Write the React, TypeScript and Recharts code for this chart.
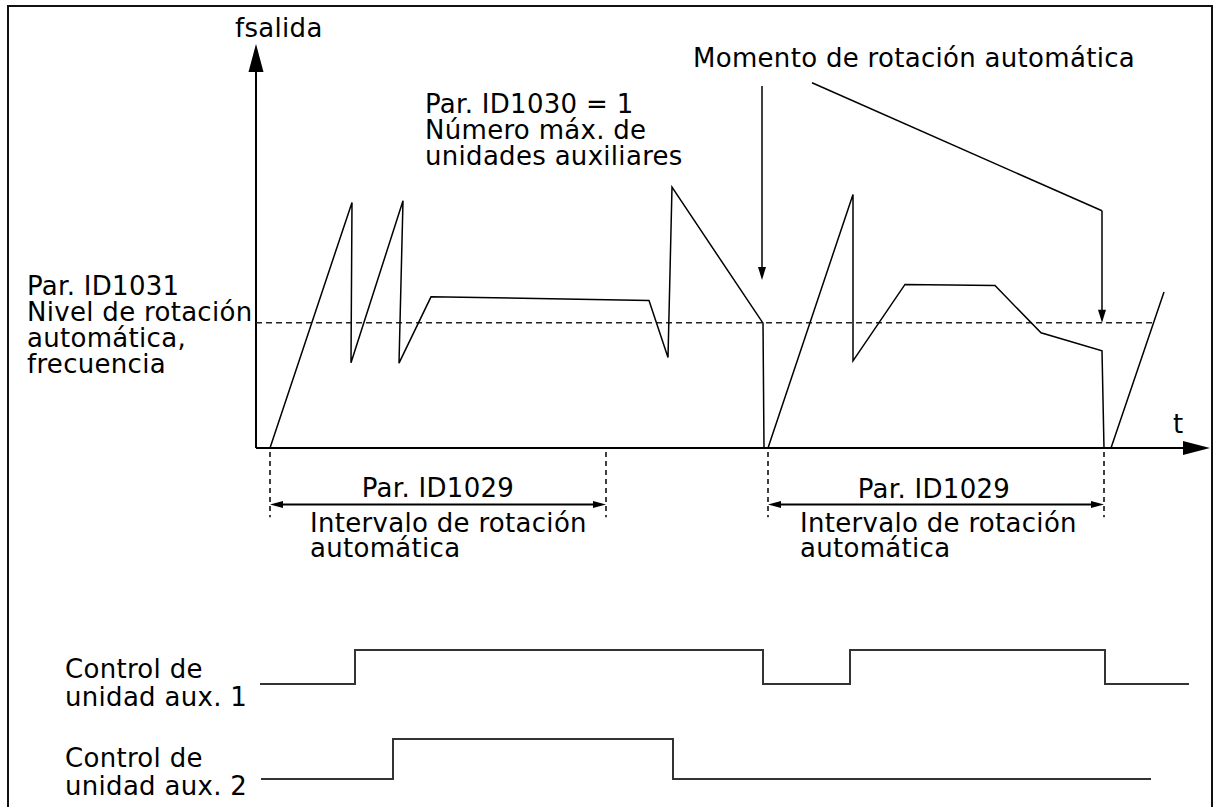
import React from 'react';
import { ComposedChart, LineChart, Line, XAxis, YAxis, ReferenceLine } from 'recharts';

// fsalida vs t (t in time units, f in % of the drawn axis)
const mainTime = [1.4, 9.6, 9.5, 14.7, 14.3, 17.5, 39.3, 41.2, 41.6, 50.7, 50.8, 51.2, 59.7, 59.7, 64.9, 73.9, 78.5, 84.6, 84.8, 85.5, 90.8];
const mainFreq = [0, 61.4, 21.3, 61.8, 21.2, 37.8, 36.9, 22.6, 65.2, 31.2, 0, 0, 63.4, 21.8, 40.9, 40.6, 28.8, 24.3, 0, 0, 39];

// auto change level (Par. ID1031)
const levelFreq = 31.3;
const levelEnd = 89.9;

// auto change interval marks (Par. ID1029)
const intervalStarts = [1.4, 51.2];
const intervalEnds = [35, 84.8];

// auxiliary drive control signals
const aux1Time = [0.4, 9.9, 50.7, 59.4, 84.9, 93.3];
const aux1State = [0, 1, 0, 1, 0, 0];
const aux2Time = [0.5, 13.7, 41.7, 89.5];
const aux2State = [0, 1, 0, 0];

const mainData = mainTime.map((t, i) => ({ t, f: mainFreq[i] }));
const aux1Data = aux1Time.map((t, i) => ({ t, s: aux1State[i] }));
const aux2Data = aux2Time.map((t, i) => ({ t, s: aux2State[i] }));

const X_DOMAIN: [number, number] = [0, 95.4];
const FONT = '"DejaVu Sans", Verdana, sans-serif';

type ArrowOpts = { head: number; half: number; both?: boolean; width?: number; end?: boolean };

const arrow = ({ head, half, both = false, width = 1.5, end = true }: ArrowOpts) => (props: any) => {
  const { x1, y1, x2, y2 } = props;
  const a = Math.atan2(y2 - y1, x2 - x1);
  const tri = (x: number, y: number, ang: number) => {
    const bx = x - head * Math.cos(ang);
    const by = y - head * Math.sin(ang);
    const nx = -Math.sin(ang) * half;
    const ny = Math.cos(ang) * half;
    return `${x},${y} ${bx + nx},${by + ny} ${bx - nx},${by - ny}`;
  };
  const sx = both ? x1 + (head - 2) * Math.cos(a) : x1;
  const sy = both ? y1 + (head - 2) * Math.sin(a) : y1;
  const ex = end ? x2 - (head - 2) * Math.cos(a) : x2;
  const ey = end ? y2 - (head - 2) * Math.sin(a) : y2;
  return (
    <g>
      <line x1={sx} y1={sy} x2={ex} y2={ey} stroke="#000" strokeWidth={width} />
      {end && <polygon points={tri(x2, y2, a)} fill="#000" />}
      {both && <polygon points={tri(x1, y1, a + Math.PI)} fill="#000" />}
    </g>
  );
};

const Labels = () => (
  <svg
    width={1215}
    height={807}
    style={{ position: 'absolute', left: 0, top: 0, pointerEvents: 'none' }}
    fontFamily={FONT}
    fontSize={26}
    letterSpacing={0.3}
    fill="#000"
  >
    <text x={235} y={37}>fsalida</text>
    <text x={693} y={67}>Momento de rotación automática</text>
    <text x={425} y={113}>Par. ID1030 = 1</text>
    <text x={425} y={139}>Número máx. de</text>
    <text x={425} y={165}>unidades auxiliares</text>
    <text x={27} y={295}>Par. ID1031</text>
    <text x={27} y={321}>Nivel de rotación</text>
    <text x={27} y={347}>automática,</text>
    <text x={27} y={373}>frecuencia</text>
    <text x={1173} y={433}>t</text>
    <text x={438} y={497} textAnchor="middle">Par. ID1029</text>
    <text x={310} y={532}>Intervalo de rotación</text>
    <text x={310} y={557}>automática</text>
    <text x={934} y={498} textAnchor="middle">Par. ID1029</text>
    <text x={800} y={532}>Intervalo de rotación</text>
    <text x={800} y={557}>automática</text>
    <text x={65} y={678}>Control de</text>
    <text x={65} y={706}>unidad aux. 1</text>
    <text x={65} y={767}>Control de</text>
    <text x={65} y={795}>unidad aux. 2</text>
  </svg>
);

export default function App() {
  return (
    <div style={{ position: 'absolute', left: 0, top: 0, width: 1215, height: 807, overflow: 'hidden', background: '#fff' }}>
      <div
        style={{
          position: 'absolute',
          left: 7,
          top: 5,
          width: 1206,
          height: 820,
          border: '2px solid #111',
          boxSizing: 'border-box',
        }}
      />
      <div style={{ position: 'absolute', left: 0, top: 0 }}>
        <ComposedChart width={1215} height={600} data={mainData} margin={{ top: 44, right: 5, left: 256, bottom: 32 }}>
          <XAxis type="number" dataKey="t" domain={X_DOMAIN} hide allowDataOverflow />
          <YAxis type="number" domain={[-30, 101]} hide allowDataOverflow />
          {/* axes with arrow heads */}
          <ReferenceLine ifOverflow="visible" segment={[{ x: 0, y: 0 }, { x: 0, y: 101 }]} shape={arrow({ head: 28, half: 7.5, width: 2 })} />
          <ReferenceLine ifOverflow="visible" segment={[{ x: 0, y: 0 }, { x: 95.4, y: 0 }]} shape={arrow({ head: 27, half: 7, width: 2 })} />
          <ReferenceLine
            ifOverflow="visible"
            segment={[{ x: 0, y: levelFreq }, { x: levelEnd, y: levelFreq }]}
            stroke="#222"
            strokeWidth={1.5}
            strokeDasharray="6 4"
          />
          {/* auto change moment pointers */}
          <ReferenceLine ifOverflow="visible" segment={[{ x: 50.6, y: 90.5 }, { x: 50.6, y: 42 }]} shape={arrow({ head: 13, half: 4 })} />
          <ReferenceLine ifOverflow="visible" segment={[{ x: 55.6, y: 91.3 }, { x: 84.6, y: 59.3 }]} stroke="#000" strokeWidth={1.5} />
          <ReferenceLine ifOverflow="visible" segment={[{ x: 84.6, y: 59.3 }, { x: 84.6, y: levelFreq }]} shape={arrow({ head: 13, half: 4 })} />
          {/* interval dimension lines */}
          {intervalStarts.map((s, i) => (
            <React.Fragment key={i}>
              <ReferenceLine ifOverflow="visible" segment={[{ x: s, y: -1 }, { x: s, y: -17.3 }]} stroke="#000" strokeWidth={1.5} strokeDasharray="5 4" />
              <ReferenceLine ifOverflow="visible" segment={[{ x: intervalEnds[i], y: -1 }, { x: intervalEnds[i], y: -17.3 }]} stroke="#000" strokeWidth={1.5} strokeDasharray="5 4" />
              <ReferenceLine
                ifOverflow="visible"
                segment={[{ x: s, y: -14.1 }, { x: intervalEnds[i], y: -14.1 }]}
                shape={arrow({ head: 13, half: 3.5, both: true, width: 2 })}
              />
            </React.Fragment>
          ))}
          <Line type="linear" dataKey="f" stroke="#000" strokeWidth={1.5} dot={false} isAnimationActive={false} />
        </ComposedChart>
      </div>
      <div style={{ position: 'absolute', left: 0, top: 640 }}>
        <LineChart width={1215} height={54} data={aux1Data} margin={{ top: 10, right: 5, left: 256, bottom: 10 }}>
          <XAxis type="number" dataKey="t" domain={X_DOMAIN} hide />
          <YAxis type="number" domain={[0, 1]} hide />
          <Line type="stepAfter" dataKey="s" stroke="#333" strokeWidth={2} dot={false} isAnimationActive={false} />
        </LineChart>
      </div>
      <div style={{ position: 'absolute', left: 0, top: 729 }}>
        <LineChart width={1215} height={60} data={aux2Data} margin={{ top: 10, right: 5, left: 256, bottom: 10 }}>
          <XAxis type="number" dataKey="t" domain={X_DOMAIN} hide />
          <YAxis type="number" domain={[0, 1]} hide />
          <Line type="stepAfter" dataKey="s" stroke="#333" strokeWidth={2} dot={false} isAnimationActive={false} />
        </LineChart>
      </div>
      <Labels />
    </div>
  );
}
